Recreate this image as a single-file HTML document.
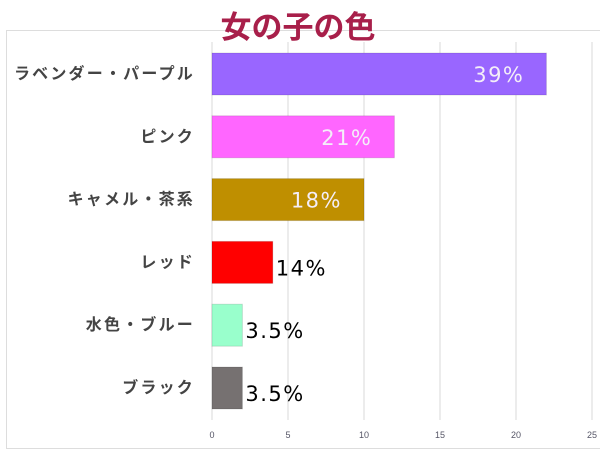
<!DOCTYPE html>
<html><head><meta charset="utf-8"><style>
html,body{margin:0;padding:0;background:#fff;width:600px;height:450px;overflow:hidden}
svg{display:block}
.cat{font-family:"Liberation Sans","Noto Sans CJK JP",sans-serif;font-size:16px;font-weight:bold;fill:#444;letter-spacing:2.2px}
.val{font-family:"DejaVu Sans","Liberation Sans",sans-serif;font-size:21px;letter-spacing:1.5px}
.tick{font-family:"Liberation Sans",sans-serif;font-size:9px;fill:#556}
</style></head><body>
<svg id="chart" width="600" height="450">
<rect x="6.5" y="30.5" width="600" height="418" fill="none" stroke="#ddd"/>
<text x="298" y="38" text-anchor="middle" font-family="Liberation Sans,Noto Sans CJK JP,sans-serif" font-size="31" font-weight="bold" fill="#a81f4a">女の子の色</text>
<g id="grid"></g><g id="bars"></g>
</svg>
<script>
const categories=["ラベンダー・パープル","ピンク","キャメル・茶系","レッド","水色・ブルー","ブラック"];
const values=[22,12,10,4,2,2];
const valueLabels=["39%","21%","18%","14%","3.5%","3.5%"];
const colors=["#9966ff","#ff66ff","#bf8f00","#ff0000","#99ffcc","#767171"];
const ticks=[0,5,10,15,20,25];
const x0=212,x1=592,y0=42,yEnd=420,rowTop=53,rowStep=62.8,barH=42;
const sx=v=>x0+(v/25)*(x1-x0);
const NS="http://www.w3.org/2000/svg";
const g=document.getElementById('grid'),b=document.getElementById('bars');
function mk(tag,at,parent){const e=document.createElementNS(NS,tag);for(const k in at)e.setAttribute(k,at[k]);parent.appendChild(e);return e;}
ticks.forEach(t=>{
 const l=mk('line',{x1:sx(t),x2:sx(t),y1:y0,y2:yEnd,stroke:'#d9d9d9','stroke-width':1},g);
 
 
 const tx=mk('text',{x:sx(t),y:438,'text-anchor':'middle',class:'tick'},g);
 tx.textContent=t;
 
 
});
categories.forEach((c,i)=>{
 const y=rowTop+i*rowStep,w=sx(values[i])-sx(0);
 const r=mk('rect',{x:sx(0),y:y,width:w,height:barH,fill:colors[i],stroke:'rgba(0,0,0,0.12)','stroke-width':1},b);
 
 
 const lt=mk('text',{x:195,y:y+barH/2+5,'text-anchor':'end',class:'cat'},b);
 lt.textContent=c;
 
 
 const inside=w>100;
 const vt=mk('text',{x:inside?sx(values[i])-22:sx(values[i])+3,y:y+barH/2+(inside?8:13),'text-anchor':inside?'end':'start',class:'val',fill:inside?'#f4eef8':'#000'},b);
 vt.textContent=valueLabels[i];
 
 
});
</script>
</body></html>
